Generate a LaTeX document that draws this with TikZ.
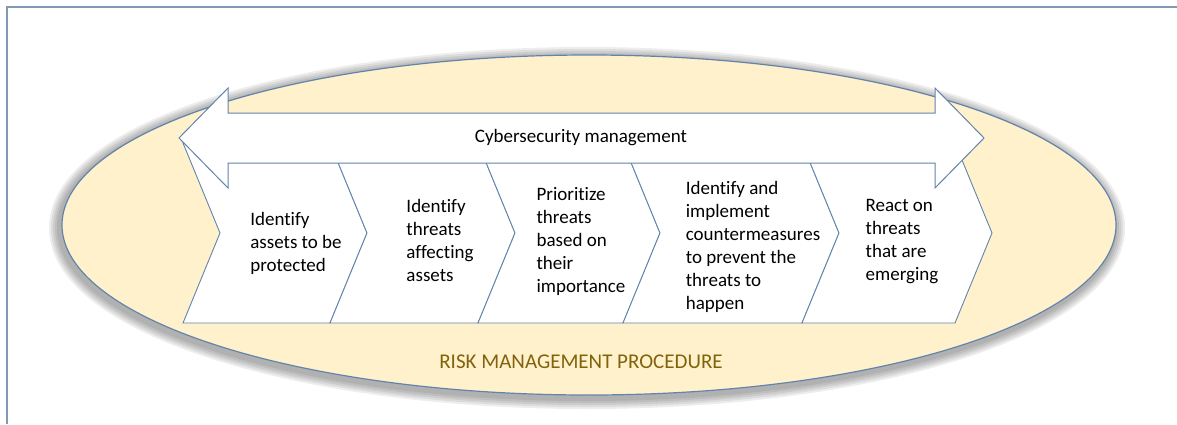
\documentclass[tikz,border=0pt]{standalone}
\usepackage{fontspec}
\setmainfont[Ligatures={NoCommon,NoContextual}]{Carlito}
\usepackage{tikz}
\definecolor{edgeblue}{RGB}{98,132,172}
\definecolor{framegray}{RGB}{128,154,182}
\definecolor{cream}{RGB}{255,241,204}
\definecolor{ochre}{RGB}{130,98,10}
\tikzstyle{stage}=[draw=edgeblue,line width=0.9pt,fill=white,line join=miter]
\tikzstyle{label}=[align=left,text=black,font=\fontsize{19}{23}\selectfont]
\tikzstyle{wide}=[draw=edgeblue,line width=1pt,fill=white]

\begin{document}
\begin{tikzpicture}[x=1pt,y=-1pt]
  \useasboundingbox (0,0) rectangle (1177,424);

  % page frame
  \draw[framegray,line width=1.8pt] (1177,7)--(7,7)--(7,424);

  % soft shadow, then the oval
  \foreach \w in {22,18,14,10,6}
    \draw[black,opacity=0.07,line width=\w pt] (587,228) ellipse [x radius=527pt,y radius=170pt];
  \filldraw[fill=cream,draw=edgeblue,line width=1.2pt] (589,225) ellipse [x radius=527pt,y radius=170pt];

  % the five steps
  \draw[stage] (183,143)--(330,143)--(367,233)--(330,323)--(183,323)--(220,233)--cycle;
  \draw[stage] (330,143)--(478,143)--(515,233)--(478,323)--(330,323)--(367,233)--cycle;
  \draw[stage] (478,143)--(623,143)--(660,233)--(623,323)--(478,323)--(515,233)--cycle;
  \draw[stage] (623,143)--(802,143)--(839,233)--(802,323)--(623,323)--(660,233)--cycle;
  \draw[stage] (802,143)--(955,143)--(992,233)--(955,323)--(802,323)--(839,233)--cycle;

  % double arrow on top
  \draw[wide] (179,138)--(228,88)--(228,113)--(935,113)--(935,88)--(984,138)
    --(935,188)--(935,163)--(228,163)--(228,188)--cycle;

  \node[label] (cyber) at (581,138) {Cybersecurity management};
  \node[label] (s1) at (296,243) {Identify\\assets to be\\protected};
  \node[label] (s2) at (440,240) {Identify\\threats\\affecting\\assets};
  \node[label] (s3) at (581,241) {Prioritize\\threats\\based on\\their\\importance};
  \node[label] (s4) at (753,247) {Identify and\\implement\\countermeasures\\to prevent the\\threats to\\happen};
  \node[label] (s5) at (902,242) {React on\\threats\\that are\\emerging};

  \node[label,text=ochre,font=\fontsize{21}{25}\selectfont] (risk) at (581,362) {RISK MANAGEMENT PROCEDURE};

\end{tikzpicture}
\end{document}
